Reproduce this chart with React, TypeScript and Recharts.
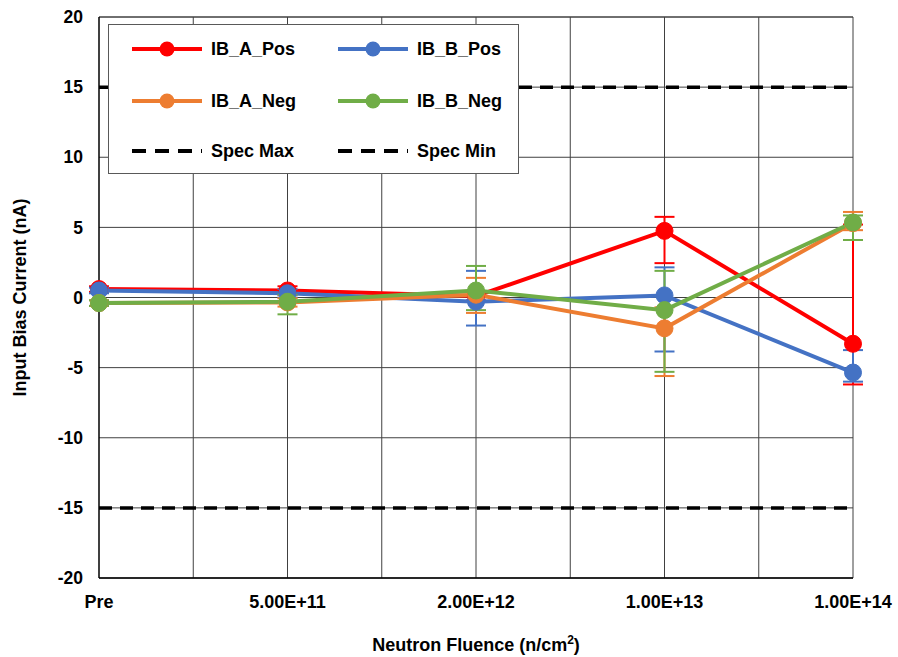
import React from "react";
import {
  CartesianGrid,
  ErrorBar,
  Line,
  LineChart,
  ReferenceLine,
  XAxis,
  YAxis,
} from "recharts";

const categories = ["Pre", "5.00E+11", "2.00E+12", "1.00E+13", "1.00E+14"];

const ibAPos = [0.6, 0.5, 0.1, 4.75, -3.3];
const ibAPosErr = [[0.2, 0.2], [0.3, 0.3], [0.3, 0.3], [2.3, 1.0], [2.9, 8.5]];

const ibBPos = [0.5, 0.3, -0.3, 0.15, -5.35];
const ibBPosErr = [[0.2, 0.2], [0.3, 0.3], [1.7, 2.2], [4.0, 2.0], [0.65, 1.6]];

const ibANeg = [-0.4, -0.35, 0.2, -2.2, 5.3];
const ibANegErr = [[0.2, 0.2], [0.3, 0.3], [1.3, 1.2], [3.4, 1.5], [0.5, 0.8]];

const ibBNeg = [-0.4, -0.3, 0.5, -0.9, 5.35];
const ibBNegErr = [[0.2, 0.2], [0.9, 0.5], [1.4, 1.75], [4.4, 2.8], [1.25, 0.5]];

const specMax = [15, 15, 15, 15, 15];
const specMin = [-15, -15, -15, -15, -15];

const yTicks = [-20, -15, -10, -5, 0, 5, 10, 15, 20];
const xTicks = [0, 1, 2, 3, 4];
const xGrid = [0.5, 1, 1.5, 2, 2.5, 3, 3.5, 4];

const data = categories.map((name, i) => ({
  x: i,
  name,
  ibAPos: ibAPos[i],
  ibAPosErr: ibAPosErr[i],
  ibBPos: ibBPos[i],
  ibBPosErr: ibBPosErr[i],
  ibANeg: ibANeg[i],
  ibANegErr: ibANegErr[i],
  ibBNeg: ibBNeg[i],
  ibBNegErr: ibBNegErr[i],
  specMax: specMax[i],
  specMin: specMin[i],
}));

const series = [
  { key: "ibAPos", name: "IB_A_Pos", color: "#FF0000" },
  { key: "ibBPos", name: "IB_B_Pos", color: "#4472C4" },
  { key: "ibANeg", name: "IB_A_Neg", color: "#ED7D31" },
  { key: "ibBNeg", name: "IB_B_Neg", color: "#70AD47" },
];

const legendItems = [
  { name: "IB_A_Pos", color: "#FF0000", dashed: false },
  { name: "IB_B_Pos", color: "#4472C4", dashed: false },
  { name: "IB_A_Neg", color: "#ED7D31", dashed: false },
  { name: "IB_B_Neg", color: "#70AD47", dashed: false },
  { name: "Spec Max", color: "#000000", dashed: true },
  { name: "Spec Min", color: "#000000", dashed: true },
];

const font = "Arial, 'Liberation Sans', sans-serif";
const gridColor = "#404040";

function YTitle(props: any) {
  const vb = props.viewBox;
  const x = vb.x + 20;
  const y = vb.y + vb.height / 2;
  return (
    <text
      x={x}
      y={y}
      transform={`rotate(-90, ${x}, ${y})`}
      textAnchor="middle"
      dominantBaseline="central"
      fontFamily={font}
      fontWeight="bold"
      fontSize={18}
      fill="#000"
    >
      Input Bias Current (nA)
    </text>
  );
}

function XTitle(props: any) {
  const vb = props.viewBox;
  return (
    <text
      x={vb.x + vb.width / 2}
      y={vb.y + 73}
      textAnchor="middle"
      fontFamily={font}
      fontWeight="bold"
      fontSize={18}
      fill="#000"
    >
      Neutron Fluence (n/cm
      <tspan fontSize={12} dy={-7}>2</tspan>
      <tspan dy={7}>)</tspan>
    </text>
  );
}

function LegendBox() {
  const rows = [24, 76, 126];
  return (
    <div
      style={{
        position: "absolute",
        left: 108,
        top: 24,
        width: 409,
        height: 148,
        background: "#fff",
        border: "1px solid #595959",
        fontFamily: font,
        fontWeight: "bold",
        fontSize: 18,
      }}
    >
      {legendItems.map((item, i) => {
        const col = i % 2;
        const row = Math.floor(i / 2);
        return (
          <div
            key={item.name}
            style={{
              position: "absolute",
              left: 22 + col * 206,
              top: rows[row] - 11,
              height: 22,
              display: "flex",
              alignItems: "center",
              whiteSpace: "nowrap",
            }}
          >
            <svg width={72} height={22} style={{ marginRight: 8 }}>
              {item.dashed ? (
                <line x1={1} y1={11} x2={71} y2={11} stroke="#000" strokeWidth={4} strokeDasharray="14 9" />
              ) : (
                <>
                  <line x1={1} y1={11} x2={71} y2={11} stroke={item.color} strokeWidth={4} />
                  <circle cx={36} cy={11} r={7.5} fill={item.color} />
                </>
              )}
            </svg>
            <span>{item.name}</span>
          </div>
        );
      })}
    </div>
  );
}

export default function App() {
  return (
    <div style={{ position: "absolute", left: 0, top: 0, width: 898, height: 657, background: "#fff" }}>
      <LineChart width={898} height={657} data={data} margin={{ top: 17, right: 45, left: 0, bottom: 0 }}>
        <CartesianGrid vertical={false} stroke={gridColor} strokeWidth={1} />
        {xGrid.map((v) => (
          <ReferenceLine key={v} x={v} stroke={gridColor} strokeWidth={1} />
        ))}
        <ReferenceLine y={20} stroke={gridColor} strokeWidth={1} />
        <XAxis
          dataKey="x"
          type="number"
          domain={[0, 4]}
          ticks={xTicks}
          tickFormatter={(v: number) => categories[v]}
          height={79}
          tickSize={0}
          tickMargin={17}
          axisLine={{ stroke: "#000", strokeWidth: 1.5 }}
          tick={{ fill: "#000", fontSize: 18, fontWeight: "bold", fontFamily: font }}
          label={<XTitle />}
        />
        <YAxis
          type="number"
          domain={[-20, 20]}
          ticks={yTicks}
          width={99}
          tickSize={0}
          tickMargin={16}
          axisLine={{ stroke: "#000", strokeWidth: 1.5 }}
          tick={{ fill: "#000", fontSize: 17.5, fontWeight: "bold", fontFamily: font }}
          label={<YTitle />}
        />
        <Line
          dataKey="specMax"
          stroke="#000"
          strokeWidth={3.5}
          strokeDasharray="13 8"
          dot={false}
          activeDot={false}
          isAnimationActive={false}
        />
        <Line
          dataKey="specMin"
          stroke="#000"
          strokeWidth={3.5}
          strokeDasharray="13 8"
          dot={false}
          activeDot={false}
          isAnimationActive={false}
        />
        {series.map((s) => (
          <Line
            key={s.key}
            dataKey={s.key}
            name={s.name}
            type="linear"
            stroke={s.color}
            strokeWidth={4}
            dot={{ r: 8.5, fill: s.color, stroke: s.color, strokeWidth: 1 }}
            activeDot={false}
            isAnimationActive={false}
          >
            <ErrorBar
              dataKey={`${s.key}Err`}
              direction="y"
              width={10}
              strokeWidth={2}
              stroke={s.color}
              isAnimationActive={false}
            />
          </Line>
        ))}
      </LineChart>
      <LegendBox />
    </div>
  );
}
